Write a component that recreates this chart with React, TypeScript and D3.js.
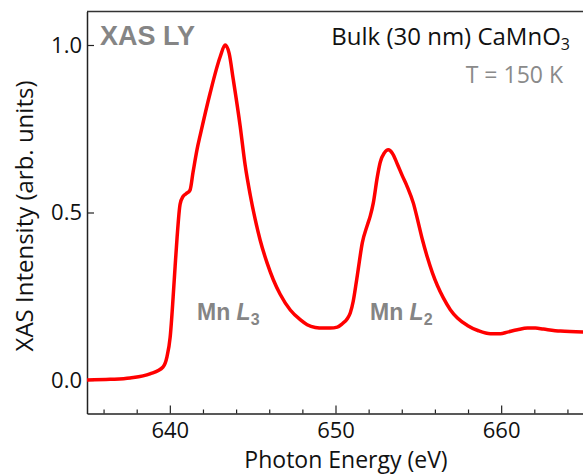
import { useEffect, useRef } from "react"
import * as d3 from "d3"

// Photon energy (eV) and normalised XAS LY intensity
const energy = [
  635.0, 636.4, 637.6, 638.8, 639.59, 639.83, 640.02, 640.2, 640.32, 640.44,
  640.62, 640.8, 640.98, 641.22, 641.4, 641.65, 641.83, 642.43, 643.04, 643.34,
  643.58, 643.82, 644.24, 644.55, 644.85, 645.15, 645.45, 645.88, 646.24, 646.66,
  647.27, 647.87, 648.29, 648.78, 649.26, 649.68, 650.11, 650.41, 650.71, 650.89,
  651.07, 651.25, 651.37, 651.62, 651.92, 652.1, 652.28, 652.52, 652.7, 652.95,
  653.19, 653.43, 653.73, 654.03, 654.34, 654.7, 655.0, 655.24, 655.54, 655.85,
  656.15, 656.51, 656.93, 657.36, 657.96, 658.63, 659.35, 659.95, 660.38, 660.98,
  661.59, 662.07, 662.55, 663.58, 664.97,
]
const intensity = [
  0.0, 0.002, 0.006, 0.018, 0.039, 0.07, 0.128, 0.248, 0.34, 0.427,
  0.525, 0.548, 0.556, 0.567, 0.62, 0.69, 0.73, 0.856, 0.965, 1.0,
  0.975, 0.9, 0.76, 0.64, 0.553, 0.48, 0.418, 0.348, 0.3, 0.256,
  0.209, 0.18, 0.165, 0.157, 0.155, 0.155, 0.158, 0.168, 0.183, 0.2,
  0.235, 0.29, 0.33, 0.41, 0.462, 0.49, 0.528, 0.605, 0.65, 0.678,
  0.687, 0.677, 0.645, 0.61, 0.576, 0.528, 0.469, 0.42, 0.367, 0.32,
  0.282, 0.245, 0.21, 0.185, 0.163, 0.147, 0.138, 0.138, 0.143, 0.15,
  0.155, 0.155, 0.152, 0.146, 0.143,
]

const xMajorTicks = [640, 650, 660]
const xMinorTicks = [636, 638, 642, 644, 646, 648, 652, 654, 656, 658, 662, 664]
const yTicks = [0, 0.5, 1.0]

const W = 583
const H = 474
const SANS = "'Open Sans', 'Noto Sans', sans-serif"
const BOLD = "'Liberation Sans', Arial, sans-serif"

export default function App() {
  const ref = useRef<SVGSVGElement>(null)

  useEffect(() => {
    if (!ref.current) return
    const svg = d3.select(ref.current)
    svg.selectAll("*").remove()

    const x = d3.scaleLinear().domain([635, 665]).range([87, 584])
    const y = d3.scaleLinear().domain([-0.1, 1.1]).range([413.5, 11.5])

    const data = energy.map((e, i) => ({ e, v: intensity[i] }))

    // frame: top line (left + bottom come from the axes)
    svg.append("line")
      .attr("x1", x(635)).attr("x2", W)
      .attr("y1", y(1.1)).attr("y2", y(1.1))
      .attr("stroke", "#333").attr("stroke-width", 1.5)

    // minor x ticks
    svg.append("g")
      .attr("transform", `translate(0,${y(-0.1)})`)
      .call(d3.axisBottom(x).tickValues(xMinorTicks).tickSize(-4).tickSizeOuter(0).tickFormat(() => ""))
      .call((g) => g.select(".domain").remove())
      .call((g) => g.selectAll("line").attr("stroke", "#222").attr("stroke-width", 1.2))

    // major x axis
    svg.append("g")
      .attr("transform", `translate(0,${y(-0.1)})`)
      .call(d3.axisBottom(x).tickValues(xMajorTicks).tickSize(-8).tickSizeOuter(0).tickPadding(9).tickFormat(d3.format("d")))
      .call((g) => g.select(".domain").attr("stroke", "#222").attr("stroke-width", 1.5))
      .call((g) => g.selectAll("line").attr("stroke", "#222").attr("stroke-width", 1.2))
      .call((g) => g.selectAll("text").attr("font-family", SANS).attr("font-size", 22).attr("fill", "#111"))

    // y axis
    svg.append("g")
      .attr("transform", `translate(${x(635)},0)`)
      .call(d3.axisLeft(y).tickValues(yTicks).tickSize(-7).tickSizeOuter(0).tickPadding(5).tickFormat(d3.format(".1f")))
      .call((g) => g.select(".domain").attr("stroke", "#222").attr("stroke-width", 1.5))
      .call((g) => g.selectAll("line").attr("stroke", "#222").attr("stroke-width", 1.2))
      .call((g) => g.selectAll("text").attr("font-family", SANS).attr("font-size", 22).attr("fill", "#111"))

    // spectrum
    const line = d3.line<{ e: number; v: number }>()
      .x((d) => x(d.e))
      .y((d) => y(d.v))
      .curve(d3.curveMonotoneX)

    svg.append("path")
      .datum(data)
      .attr("d", line)
      .attr("fill", "none")
      .attr("stroke", "#ff0000")
      .attr("stroke-width", 3.5)
      .attr("stroke-linejoin", "round")

    // axis titles
    svg.append("text")
      .attr("x", 346).attr("y", 468)
      .attr("text-anchor", "middle")
      .attr("font-family", SANS).attr("font-size", 23).attr("fill", "#111")
      .text("Photon Energy (eV)")

    svg.append("text")
      .attr("transform", `translate(33,216) rotate(-90)`)
      .attr("text-anchor", "middle")
      .attr("font-family", SANS).attr("font-size", 24).attr("fill", "#111")
      .text("XAS Intensity (arb. units)")

    // annotations
    svg.append("text")
      .attr("x", 100).attr("y", 45)
      .attr("font-family", BOLD).attr("font-weight", "bold").attr("font-size", 27).attr("fill", "#858585")
      .text("XAS LY")

    const title = svg.append("text")
      .attr("x", 570).attr("y", 45)
      .attr("text-anchor", "end")
      .attr("font-family", SANS).attr("font-size", 24).attr("fill", "#111")
    title.append("tspan").text("Bulk (30 nm) CaMnO")
    title.append("tspan").attr("font-size", 16).attr("dy", 5).text("3")

    svg.append("text")
      .attr("x", 563).attr("y", 83)
      .attr("text-anchor", "end")
      .attr("font-family", SANS).attr("font-size", 23).attr("fill", "#8a8a8a")
      .text("T = 150 K")

    const edges = [
      { x: 197, label: "Mn ", sub: "3" },
      { x: 370, label: "Mn ", sub: "2" },
    ]
    edges.forEach((d) => {
      const t = svg.append("text")
        .attr("x", d.x).attr("y", 320)
        .attr("font-family", BOLD).attr("font-weight", "bold").attr("font-size", 23).attr("fill", "#858585")
      t.append("tspan").text(d.label)
      t.append("tspan").attr("font-style", "italic").text("L")
      t.append("tspan").attr("font-size", 16).attr("dy", 5).text(d.sub)
    })
  }, [])

  return (
    <svg
      ref={ref}
      width={W}
      height={H}
      style={{ position: "absolute", left: 0, top: 0, background: "#fff" }}
    />
  )
}
